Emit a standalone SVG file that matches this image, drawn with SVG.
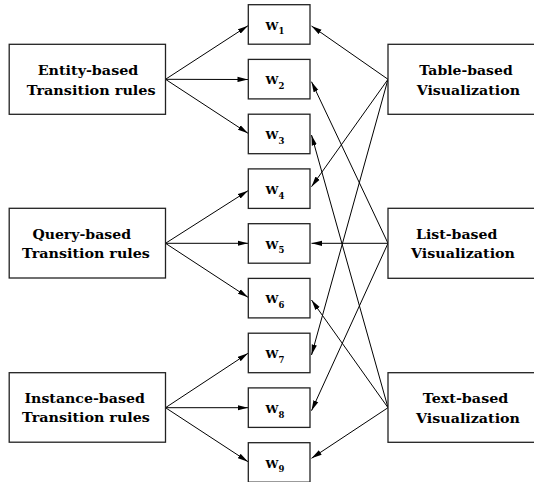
<svg xmlns="http://www.w3.org/2000/svg" width="534" height="482" viewBox="0 0 534 482">
  <defs>
    <marker id="arrow" markerUnits="userSpaceOnUse" markerWidth="11" markerHeight="6" refX="10.5" refY="3" orient="auto">
      <path d="M0,0.4 L10.5,3 L0,5.6 z" fill="#000"/>
    </marker>
    <style>
      .box { fill: #fff; stroke: #222; stroke-width: 1.3; }
      .edge { stroke: #000; stroke-width: 1; fill: none; marker-end: url(#arrow); }
      .lbl { font-family: "DejaVu Serif", "Liberation Serif", serif; font-weight: bold; font-size: 13px; fill: #000; }
      .w { font-family: "DejaVu Serif", "Liberation Serif", serif; font-weight: bold; font-size: 11.5px; fill: #000; }
      .sub { font-size: 8.5px; }
    </style>
  </defs>
  <rect width="534" height="482" fill="#fff"/>

  <!-- connectors -->
  <g id="connectors">
    <!-- transition rules to windows -->
    <line class="edge" x1="165.5" y1="79.3" x2="248" y2="25.7"/>
    <line class="edge" x1="165.5" y1="79.3" x2="248" y2="79.5"/>
    <line class="edge" x1="165.5" y1="79.3" x2="248" y2="133.3"/>
    <line class="edge" x1="165.5" y1="243.3" x2="248" y2="190.7"/>
    <line class="edge" x1="165.5" y1="243.3" x2="248" y2="243.3"/>
    <line class="edge" x1="165.5" y1="243.3" x2="248" y2="297.3"/>
    <line class="edge" x1="165.5" y1="407.7" x2="248" y2="353.3"/>
    <line class="edge" x1="165.5" y1="407.7" x2="248" y2="407.7"/>
    <line class="edge" x1="165.5" y1="407.7" x2="248" y2="461.7"/>
    <!-- visualizations to windows -->
    <line class="edge" x1="388" y1="79.3" x2="311.5" y2="26"/>
    <line class="edge" x1="388" y1="79.3" x2="311.5" y2="186.7"/>
    <line class="edge" x1="388" y1="79.3" x2="311.5" y2="355"/>
    <line class="edge" x1="388" y1="243.3" x2="311.5" y2="81.7"/>
    <line class="edge" x1="388" y1="243.3" x2="311.5" y2="243.3"/>
    <line class="edge" x1="388" y1="243.3" x2="311.5" y2="410.7"/>
    <line class="edge" x1="388" y1="407.7" x2="311.5" y2="135"/>
    <line class="edge" x1="388" y1="407.7" x2="311.5" y2="300"/>
    <line class="edge" x1="388" y1="407.7" x2="311.5" y2="458.3"/>
  </g>

  <!-- transition rule sources -->
  <g id="entity-rules">
    <rect class="box" x="9.2" y="44.3" width="156.3" height="70"/>
    <text class="lbl" x="37.7" y="75" textLength="100.6" lengthAdjust="spacingAndGlyphs">Entity-based</text>
    <text class="lbl" x="26.7" y="95" textLength="129" lengthAdjust="spacingAndGlyphs">Transition rules</text>
  </g>
  <g id="query-rules">
    <rect class="box" x="9.2" y="208.3" width="156.3" height="69.7"/>
    <text class="lbl" x="32.4" y="239" textLength="98.6" lengthAdjust="spacingAndGlyphs">Query-based</text>
    <text class="lbl" x="22.1" y="257.5" textLength="127.8" lengthAdjust="spacingAndGlyphs">Transition rules</text>
  </g>
  <g id="instance-rules">
    <rect class="box" x="9.2" y="372.7" width="156.3" height="69.5"/>
    <text class="lbl" x="24.5" y="403.3" textLength="120.3" lengthAdjust="spacingAndGlyphs">Instance-based</text>
    <text class="lbl" x="22.1" y="422.3" textLength="127.8" lengthAdjust="spacingAndGlyphs">Transition rules</text>
  </g>

  <!-- windows -->
  <g id="w1"><rect class="box" x="248.3" y="4.7" width="61.7" height="39.5"/><text class="w" x="265.5" y="29.7">W<tspan class="sub" dy="4.6">1</tspan></text></g>
  <g id="w2"><rect class="box" x="248.3" y="59.4" width="61.7" height="39.5"/><text class="w" x="265.5" y="84.4">W<tspan class="sub" dy="4.6">2</tspan></text></g>
  <g id="w3"><rect class="box" x="248.3" y="114.2" width="61.7" height="39.5"/><text class="w" x="265.5" y="139.2">W<tspan class="sub" dy="4.6">3</tspan></text></g>
  <g id="w4"><rect class="box" x="248.3" y="168.9" width="61.7" height="39.5"/><text class="w" x="265.5" y="193.9">W<tspan class="sub" dy="4.6">4</tspan></text></g>
  <g id="w5"><rect class="box" x="248.3" y="223.7" width="61.7" height="39.5"/><text class="w" x="265.5" y="248.7">W<tspan class="sub" dy="4.6">5</tspan></text></g>
  <g id="w6"><rect class="box" x="248.3" y="278.4" width="61.7" height="39.5"/><text class="w" x="265.5" y="303.4">W<tspan class="sub" dy="4.6">6</tspan></text></g>
  <g id="w7"><rect class="box" x="248.3" y="333.2" width="61.7" height="39.5"/><text class="w" x="265.5" y="358.2">W<tspan class="sub" dy="4.6">7</tspan></text></g>
  <g id="w8"><rect class="box" x="248.3" y="387.9" width="61.7" height="39.5"/><text class="w" x="265.5" y="412.9">W<tspan class="sub" dy="4.6">8</tspan></text></g>
  <g id="w9"><rect class="box" x="248.3" y="442.7" width="61.7" height="39.5"/><text class="w" x="265.5" y="467.7">W<tspan class="sub" dy="4.6">9</tspan></text></g>

  <!-- visualization sources -->
  <g id="table-vis">
    <rect class="box" x="388" y="44.3" width="160" height="70"/>
    <text class="lbl" x="419.3" y="75" textLength="93.4" lengthAdjust="spacingAndGlyphs">Table-based</text>
    <text class="lbl" x="416.7" y="95" textLength="103.3" lengthAdjust="spacingAndGlyphs">Visualization</text>
  </g>
  <g id="list-vis">
    <rect class="box" x="388" y="208.3" width="160" height="70"/>
    <text class="lbl" x="416" y="239.3" textLength="81.3" lengthAdjust="spacingAndGlyphs">List-based</text>
    <text class="lbl" x="411" y="258.3" textLength="104" lengthAdjust="spacingAndGlyphs">Visualization</text>
  </g>
  <g id="text-vis">
    <rect class="box" x="388" y="372.7" width="160" height="69.6"/>
    <text class="lbl" x="422.7" y="403.3" textLength="85.6" lengthAdjust="spacingAndGlyphs">Text-based</text>
    <text class="lbl" x="416" y="422.7" textLength="104" lengthAdjust="spacingAndGlyphs">Visualization</text>
  </g>
</svg>
